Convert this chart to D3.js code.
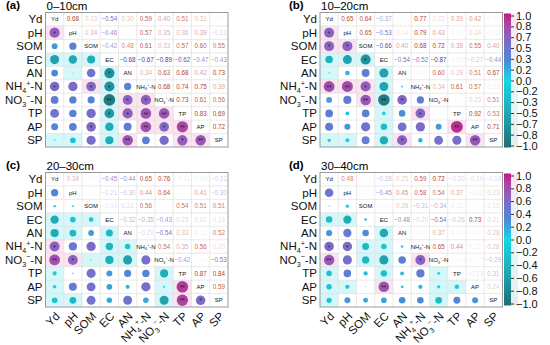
<!DOCTYPE html>
<html><head><meta charset="utf-8">
<script src="https://cdn.jsdelivr.net/npm/d3@7"></script>
<style>body{margin:0;background:#fff}svg{font-family:"Liberation Sans",Arial,sans-serif}</style>
</head><body><svg id="c" width="550" height="345"></svg>
<script>
const vars = ["Yd","pH","SOM","EC","AN","NH4","NO3","TP","AP","SP"];
const panelLetters = ["(a)","(b)","(c)","(d)"];
const depths = ["0–10cm","10–20cm","20–30cm","30–40cm"];
// upper-triangle correlations, row i holds r(i, j) for j>i
const r0_10 = [
 [0.68,0.23,-0.54,0.30,0.59,0.40,0.51,0.31,-0.018],
 [0.34,-0.46,-0.005,0.57,0.35,0.36,0.39,-0.21],
 [-0.42,0.48,0.61,0.33,0.57,0.60,0.55],
 [-0.68,-0.67,-0.89,-0.62,-0.47,-0.43],
 [0.34,0.63,0.68,0.42,0.73],
 [0.68,0.74,0.75,0.39],
 [0.73,0.61,0.56],
 [0.83,0.69],
 [0.72]];
const r10_20 = [
 [0.65,0.64,-0.37,-0.014,0.77,0.22,0.39,0.42,-0.069],
 [0.65,-0.53,0.14,0.79,0.43,0.10,0.24,-0.10],
 [-0.66,0.40,0.68,0.72,0.38,0.55,0.40],
 [-0.54,-0.52,-0.87,-0.085,-0.27,-0.44],
 [0.023,0.60,0.28,0.51,0.67],
 [0.34,0.61,0.57,0.13],
 [0.0026,0.23,0.51],
 [0.92,0.53],
 [0.71]];
const r20_30 = [
 [0.34,0.040,-0.45,-0.44,0.65,0.76,-0.11,-0.080,-0.21],
 [0.025,-0.21,-0.30,0.44,0.64,0.014,0.41,-0.30],
 [-0.14,0.22,0.56,-0.010,0.54,0.51,0.51],
 [-0.32,-0.35,-0.43,0.23,0.21,0.19],
 [-0.20,-0.54,0.33,0.11,0.52],
 [0.54,0.35,0.56,0.20],
 [-0.42,-0.030,-0.53],
 [0.87,0.84],
 [0.59]];
const r30_40 = [
 [0.48,0.009,-0.28,0.25,0.59,0.72,-0.20,-0.19,-0.18],
 [0.07,-0.45,0.45,0.58,0.54,0.37,-0.12,0.23],
 [0.05,0.28,-0.31,-0.34,0.12,0.006,0.16],
 [-0.48,-0.20,-0.54,-0.26,0.73,0.21],
 [0.04,0.37,0.10,0.05,0.28],
 [0.65,0.44,0.12,0.28],
 [-0.05,-0.07,-0.29],
 [-0.13,0.31],
 [0.24]];
const panelData = [r0_10, r10_20, r20_30, r30_40];
const cbTicksTop = [1,0.833,0.667,0.5,0.333,0.167,0,-0.167,-0.333,-0.5,-0.667,-0.833,-1];
const cbTicksBottom = [1,0.8,0.6,0.4,0.2,0,-0.2,-0.4,-0.6,-0.8,-1];
const sig1 = 0.576, sig2 = 0.708;

const svg = d3.select("#c");
const colStops = [-1,-0.5,0,0.3,0.5,0.67,0.83,1];
const colCols = ["#1f6d74","#1fa7b2","#18d6e4","#4f87d8","#6f74cf","#8e60c0","#ad45a3","#c4177f"];
const color = d3.scaleLinear().domain(colStops).range(colCols);
const rad = d3.scaleSqrt().domain([0,1]).range([0,6.2]);
const fmt = d3.format(".2r");

const defs = svg.append("defs");
const grad = defs.append("linearGradient").attr("id","cb").attr("x1",0).attr("x2",0).attr("y1",0).attr("y2",1);
colStops.slice().reverse().forEach(s=>{
  grad.append("stop").attr("offset",((1-s)/2*100)+"%").attr("stop-color",color(s));
});

function label(sel, name, size){
  if(name==="NH4"){
    sel.append("tspan").text("NH");
    sel.append("tspan").text("4").attr("font-size",size*0.62).attr("dy",size*0.25);
    sel.append("tspan").text("+").attr("font-size",size*0.62).attr("dy",-size*0.65);
    sel.append("tspan").text("-N").attr("dy",size*0.4);
  } else if(name==="NO3"){
    sel.append("tspan").text("NO");
    sel.append("tspan").text("3").attr("font-size",size*0.62).attr("dy",size*0.25);
    sel.append("tspan").text("−").attr("font-size",size*0.62).attr("dy",-size*0.65);
    sel.append("tspan").text("-N").attr("dy",size*0.4);
  } else sel.text(name);
}

const panels = [
  {x0:45.5,y0:12.5,xl:false},
  {x0:320,y0:12.5,xl:false},
  {x0:45.5,y0:172.5,xl:true},
  {x0:320,y0:172.5,xl:true}];
const W = 182.5, H = 134.5;

panels.forEach((p,k)=>{
  const g = svg.append("g");
  const x = d3.scaleBand().domain(vars).range([p.x0,p.x0+W]);
  const y = d3.scaleBand().domain(vars).range([p.y0,p.y0+H]);
  const bw = x.bandwidth(), bh = y.bandwidth();
  const R = panelData[k];
  const val = (i,j)=> i<j ? R[i][j-i-1] : R[j][i-j-1];
  g.append("text").attr("x",k%2?289:6).attr("y",p.y0-3.5).attr("font-size",11.5).attr("font-weight","bold").text(panelLetters[k]);
  g.append("text").attr("x",p.x0+1).attr("y",p.y0-2.5+(k>1?-0.5:0)).attr("font-size",11.5).text(depths[k]);
  const cells = [];
  vars.forEach((a,i)=>vars.forEach((b,j)=>cells.push({i,j})));
  g.selectAll("rect.bg").data(cells.filter(c=>c.i>c.j)).join("rect")
    .attr("x",c=>x(vars[c.j])).attr("y",c=>y(vars[c.i])).attr("width",bw).attr("height",bh)
    .attr("fill",c=>{const v=val(c.i,c.j); return v<0?"#d6f7fa":(v>0.6?"#fbe3f0":"none");});
  vars.forEach((v,i)=>{
    if(i>0){
      g.append("line").attr("x1",x(v)).attr("x2",x(v)).attr("y1",p.y0).attr("y2",p.y0+H).attr("stroke","#dcdcdc").attr("stroke-width",0.6);
      g.append("line").attr("y1",y(v)).attr("y2",y(v)).attr("x1",p.x0).attr("x2",p.x0+W).attr("stroke","#dcdcdc").attr("stroke-width",0.6);
    }
  });
  g.append("rect").attr("x",p.x0).attr("y",p.y0).attr("width",W).attr("height",H).attr("fill","none").attr("stroke","#9a9a9a").attr("stroke-width",1);
  const low = cells.filter(c=>c.i>c.j);
  g.selectAll("circle").data(low).join("circle")
    .attr("cx",c=>x(vars[c.j])+bw/2).attr("cy",c=>y(vars[c.i])+bh/2)
    .attr("r",c=>rad(Math.abs(val(c.i,c.j)))).attr("fill",c=>color(val(c.i,c.j)));
  g.selectAll("text.star").data(low.filter(c=>Math.abs(val(c.i,c.j))>=sig1)).join("text")
    .attr("x",c=>x(vars[c.j])+bw/2).attr("y",c=>y(vars[c.i])+bh/2+3.2)
    .attr("text-anchor","middle").attr("font-size",6.5).attr("fill","#222")
    .text(c=>Math.abs(val(c.i,c.j))>=sig2?"**":"*");
  vars.forEach(v=>{
    const t = g.append("text").attr("x",x(v)+bw/2).attr("y",y(v)+bh/2+2.2).attr("text-anchor","middle").attr("font-size",6).attr("fill","#111");
    label(t,v,6);
  });
  g.selectAll("text.val").data(cells.filter(c=>c.i<c.j)).join("text")
    .attr("x",c=>x(vars[c.j])+bw/2).attr("y",c=>y(vars[c.i])+bh/2+2.2)
    .attr("text-anchor","middle").attr("font-size",6.3)
    .attr("fill",c=>val(c.i,c.j)<0?"#3f42b0":"#b5402a")
    .attr("fill-opacity",c=>Math.min(1,0.06+Math.pow(Math.abs(val(c.i,c.j)),1.3)*1.6))
    .text(c=>fmt(val(c.i,c.j)));
  vars.forEach(v=>{
    const t=g.append("text").attr("x",p.x0-3).attr("y",y(v)+bh/2+4).attr("text-anchor","end").attr("font-size",11.5).attr("fill","#111");
    label(t,v,11.5);
  });
  if(p.xl){
    vars.forEach(v=>{
      const cx=x(v)+bw/2+3, cy=p.y0+H+7;
      const t=g.append("text").attr("transform",`translate(${cx},${cy}) rotate(-45)`).attr("text-anchor","end").attr("font-size",11.5).attr("dy","0.35em").attr("fill","#111");
      label(t,v,11.5);
    });
  }
});

function colorbar(y0,y1,ticks){
  const s = d3.scaleLinear().domain([1,-1]).range([y0,y1]);
  svg.append("rect").attr("x",511).attr("y",y0-2).attr("width",7).attr("height",y1-y0+4).attr("fill","url(#cb)").attr("opacity",0.12);
  svg.append("rect").attr("x",504).attr("y",y0-2).attr("width",7).attr("height",y1-y0+4).attr("fill","url(#cb)");
  const ax = d3.axisRight(s).tickValues(ticks).tickFormat(d3.format(".1f")).tickSize(3).tickPadding(2);
  const g = svg.append("g").attr("transform","translate(511,0)").call(ax);
  g.select(".domain").remove();
  g.selectAll("text").attr("font-size",11).attr("font-family","Liberation Sans, Arial").attr("fill","#111");
  g.selectAll("line").attr("stroke","#333");
}
colorbar(15.5,145.5,cbTicksTop);
colorbar(175.5,303.5,cbTicksBottom);
</script></body></html>
